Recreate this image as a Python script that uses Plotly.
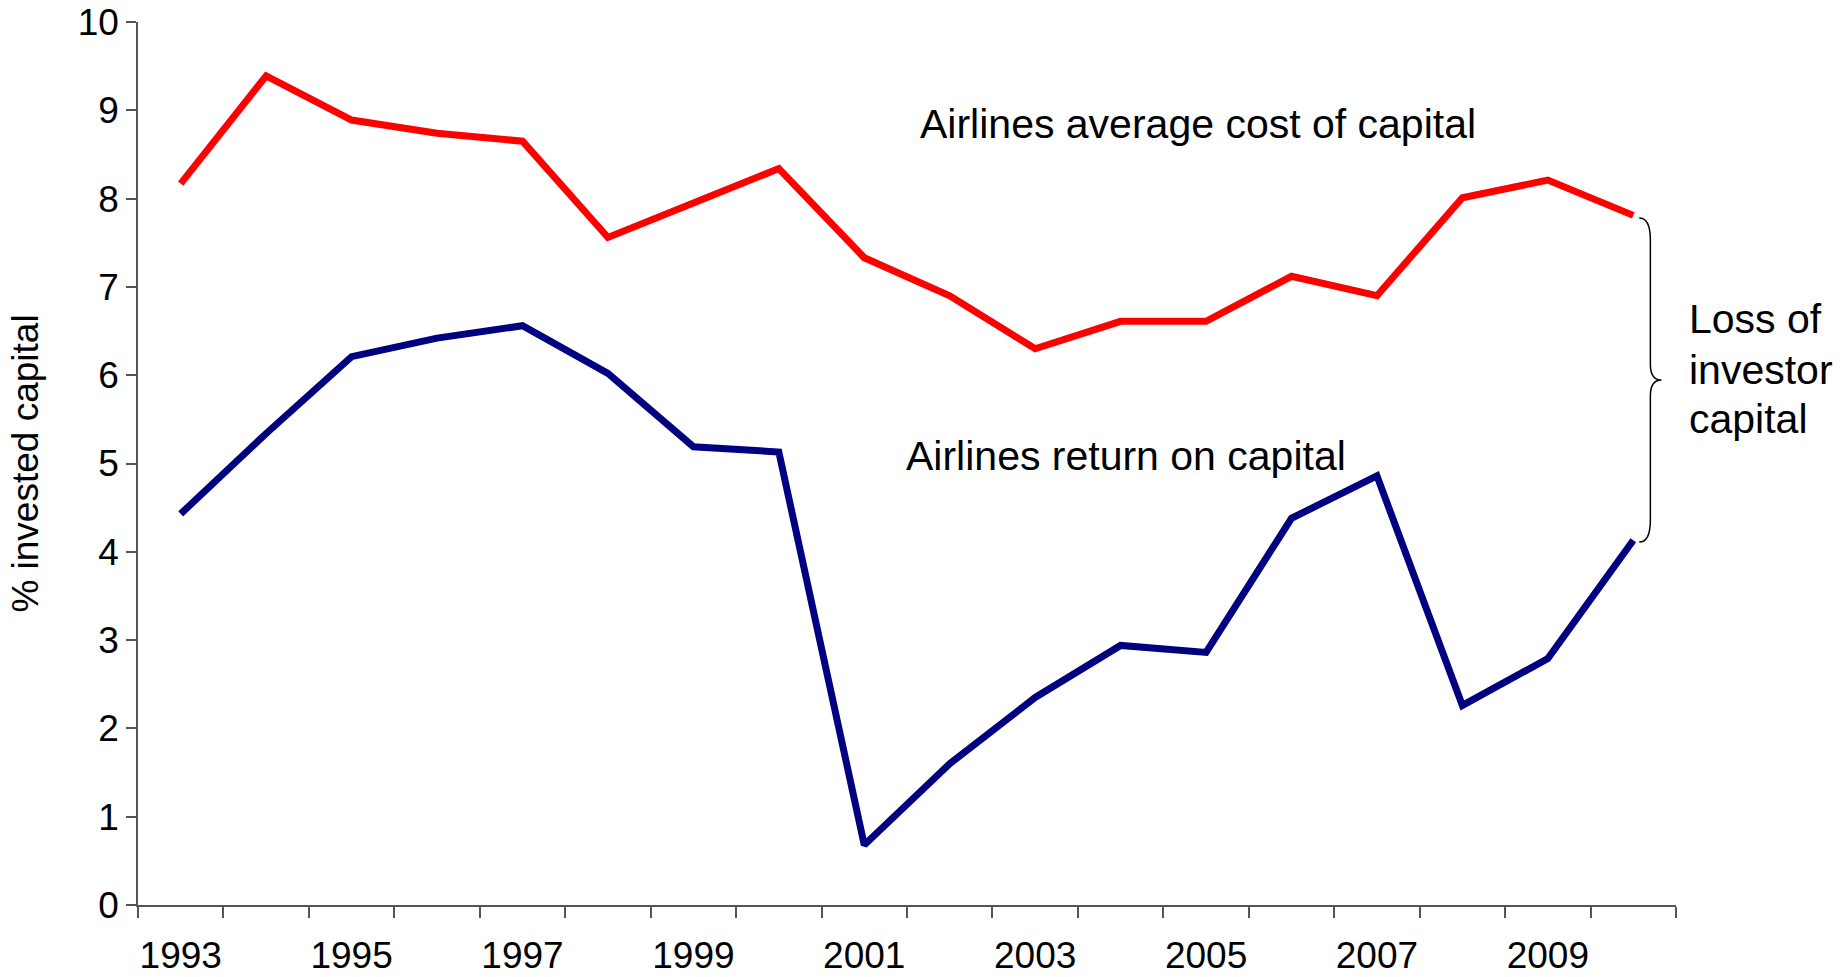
import plotly.graph_objects as go

years = list(range(1993, 2011))
cost_of_capital = [8.17, 9.39, 8.89, 8.74, 8.65, 7.56, 7.95, 8.34, 7.33, 6.90,
                   6.30, 6.61, 6.61, 7.12, 6.90, 8.01, 8.21, 7.81]
return_on_capital = [4.43, 5.34, 6.21, 6.42, 6.56, 6.02, 5.19, 5.13, 0.68, 1.60,
                     2.35, 2.94, 2.86, 4.38, 4.86, 2.26, 2.79, 4.13]
tick_years = list(range(1993, 2011, 2))
y_ticks = list(range(0, 11))

FONT = "Liberation Sans, Arial, sans-serif"

fig = go.Figure()
fig.add_trace(go.Scatter(x=years, y=cost_of_capital, mode="lines",
                         line=dict(color="#FF0000", width=7), showlegend=False))
fig.add_trace(go.Scatter(x=years, y=return_on_capital, mode="lines",
                         line=dict(color="#000080", width=7), showlegend=False))

# curly brace between last points
top = cost_of_capital[-1] - 0.03
bot = return_on_capital[-1] - 0.02
mid = (top + bot) / 2
x0 = years[-1] + 0.07
xv = years[-1] + 0.20
xt = years[-1] + 0.33
path = (f"M {x0},{top} Q {xv},{top} {xv},{top-0.25} "
        f"L {xv},{mid+0.18} Q {xv},{mid} {xt},{mid} "
        f"Q {xv},{mid} {xv},{mid-0.18} "
        f"L {xv},{bot+0.25} Q {xv},{bot} {x0},{bot}")
fig.add_shape(type="path", path=path, xref="x", yref="y",
              line=dict(color="black", width=1.5))

ann_font = dict(family=FONT, size=41, color="black")
fig.add_annotation(x=2004.91, y=8.85, xref="x", yref="y", text="Airlines average cost of capital",
                   showarrow=False, font=ann_font)
fig.add_annotation(x=2004.06, y=5.09, xref="x", yref="y", text="Airlines return on capital",
                   showarrow=False, font=ann_font)
for txt, yy in [("Loss of", 6.64), ("investor", 6.06), ("capital", 5.50)]:
    fig.add_annotation(x=1.007, y=yy, xref="paper", yref="y", text=txt, xanchor="left",
                       showarrow=False, font=ann_font)

fig.update_layout(
    width=1847, height=977,
    margin=dict(l=138, r=171, t=22, b=72),
    plot_bgcolor="white", paper_bgcolor="white",
    font=dict(family=FONT, color="black"),
    xaxis=dict(range=[1992.5, 2010.5], tickvals=tick_years, ticks="", automargin=False,
               showgrid=False, zeroline=False, showline=True, linecolor="#555555", linewidth=1.5,
               tickfont=dict(size=37, family=FONT), ticklabelstandoff=17,
               minor=dict(ticks="outside", tick0=1992.5, dtick=1, ticklen=11,
                          tickcolor="#555555", tickwidth=1.5, showgrid=False)),
    yaxis=dict(range=[0, 10], tickvals=y_ticks, ticks="outside", ticklen=10, automargin=False,
               tickcolor="#555555", tickwidth=1.5,
               showgrid=False, zeroline=False, showline=True, linecolor="#555555", linewidth=1.5,
               tickfont=dict(size=37, family=FONT),
               title=dict(text="% invested capital", font=dict(size=37, family=FONT), standoff=28)),
)

fig.write_html("out.html")
